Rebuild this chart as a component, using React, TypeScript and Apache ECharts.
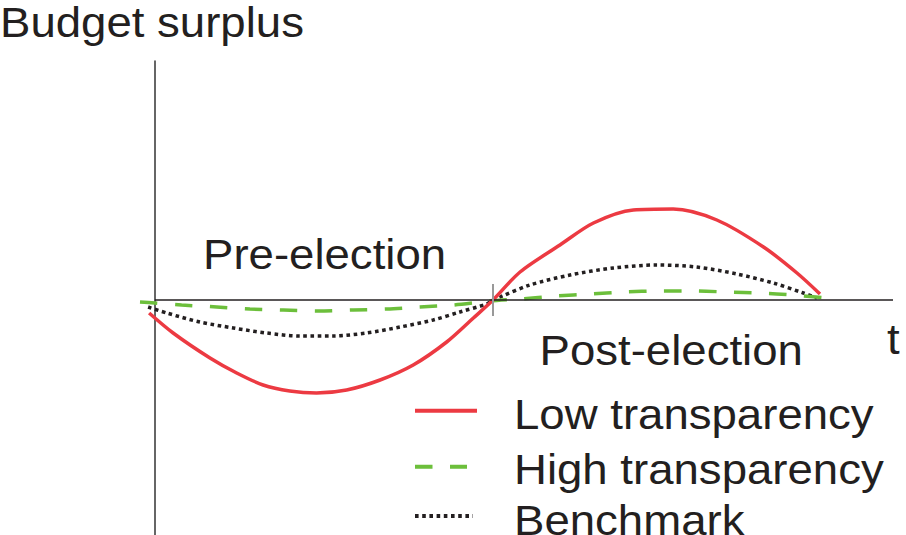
import React, { useEffect, useRef } from "react";
import * as echarts from "echarts";

// time in units of one pre-election period (election at t = 1)
const redT = [-0.017, 0.054, 0.163, 0.242, 0.32, 0.399, 0.478, 0.567, 0.666, 0.764, 0.863, 0.942, 1.0, 1.08, 1.198, 1.297, 1.415, 1.533, 1.662, 1.8, 1.899, 1.967];
const redY = [-0.13, -0.33, -0.58, -0.73, -0.85, -0.91, -0.93, -0.9, -0.8, -0.65, -0.42, -0.18, 0, 0.28, 0.55, 0.77, 0.9, 0.91, 0.8, 0.53, 0.27, 0.06];

const greenT = [-0.044, 0, 0.079, 0.183, 0.281, 0.38, 0.483, 0.587, 0.686, 0.784, 0.883, 0.991, 1.08, 1.188, 1.287, 1.386, 1.494, 1.593, 1.692, 1.79, 1.888, 1.987, 2.022];
const greenY = [-0.02, -0.03, -0.05, -0.07, -0.09, -0.1, -0.11, -0.1, -0.09, -0.07, -0.05, -0.01, 0.01, 0.04, 0.06, 0.08, 0.09, 0.09, 0.08, 0.07, 0.05, 0.02, 0.01];

const blackT = [-0.02, 0.035, 0.133, 0.232, 0.33, 0.429, 0.528, 0.626, 0.725, 0.823, 0.902, 0.981, 1.0, 1.021, 1.109, 1.228, 1.356, 1.484, 1.602, 1.721, 1.829, 1.918, 1.958];
const blackY = [-0.07, -0.13, -0.22, -0.28, -0.33, -0.36, -0.36, -0.33, -0.27, -0.2, -0.12, -0.04, 0, 0.03, 0.15, 0.25, 0.32, 0.35, 0.33, 0.26, 0.17, 0.07, 0.02];

const electionT = 1;
const tMin = -0.044;
const tMax = 2.183;
const seriesNames = ["Low transparency", "High transparency", "Benchmark"];
const yTitle = "Budget surplus";
const xTitle = "t";
const phaseLabels = ["Pre-election", "Post-election"];

const RED = "#ec3a42";
const GREEN = "#6cbf3b";
const BLACK = "#231f20";
const FONT = '"Liberation Sans", Arial, sans-serif';
const SX = 1.085;

const zip = (a: number[], b: number[]) => a.map((v, i) => [v, b[i]]);

function txt(text: string, x: number, y: number) {
  return {
    type: "text",
    x,
    y,
    scaleX: SX,
    style: {
      text,
      fill: BLACK,
      fontSize: 42,
      fontFamily: FONT,
      textAlign: "left",
      textVerticalAlign: "middle",
      align: "left",
      verticalAlign: "middle",
    },
  };
}

export default function App() {
  const ref = useRef<HTMLDivElement>(null);
  useEffect(() => {
    if (!ref.current) return;
    const chart = echarts.init(ref.current, undefined, { renderer: "svg" });
    chart.setOption({
      animation: false,
      backgroundColor: "#ffffff",
      grid: { left: 140, right: 13, top: 61, bottom: 0 },
      xAxis: {
        type: "value",
        min: tMin,
        max: tMax,
        axisLine: { show: false },
        axisTick: { show: false },
        axisLabel: { show: false },
        splitLine: { show: false },
      },
      yAxis: {
        type: "value",
        min: -2.35,
        max: 2.39,
        axisLine: { show: true, onZero: true, lineStyle: { color: "#333333", width: 1.5 } },
        axisTick: { show: false },
        axisLabel: { show: false },
        splitLine: { show: false },
      },
      series: [
        {
          name: seriesNames[2],
          type: "line",
          data: zip(blackT, blackY),
          symbol: "none",
          smooth: 0.3,
          lineStyle: { color: BLACK, width: 3.5, type: [3.6, 3.6], cap: "butt" },
          markLine: {
            silent: true,
            symbol: "none",
            label: { show: false },
            lineStyle: { type: "solid" },
            data: [
              [
                { coord: [0, 0], lineStyle: { color: BLACK, width: 1.5, type: "solid" } },
                { coord: [tMax, 0] },
              ],
              [
                { coord: [electionT, 0.16], lineStyle: { color: "#999999", width: 2, type: "solid" } },
                { coord: [electionT, -0.16] },
              ],
            ],
          },
        },
        {
          name: seriesNames[1],
          type: "line",
          data: zip(greenT, greenY),
          symbol: "none",
          smooth: 0.3,
          lineStyle: { color: GREEN, width: 3.5, type: [17.5, 17.5], cap: "butt" },
        },
        {
          name: seriesNames[0],
          type: "line",
          data: zip(redT, redY),
          symbol: "none",
          smooth: 0.3,
          lineStyle: { color: RED, width: 3.5 },
        },
      ],
      graphic: [
        txt(yTitle, 0, 22),
        txt(xTitle, 887, 338.7),
        txt(phaseLabels[0], 203, 253.8),
        txt(phaseLabels[1], 539.5, 349.8),
        {
          type: "line",
          shape: { x1: 415, y1: 410.7, x2: 477, y2: 410.7 },
          style: { stroke: RED, lineWidth: 4 },
        },
        {
          type: "line",
          shape: { x1: 415, y1: 466.7, x2: 467, y2: 466.7 },
          style: { stroke: GREEN, lineWidth: 4, lineDash: [17.5, 17.5] },
        },
        {
          type: "line",
          shape: { x1: 415, y1: 516, x2: 473, y2: 516 },
          style: { stroke: BLACK, lineWidth: 4, lineDash: [3.6, 3.6] },
        },
        txt(seriesNames[0], 514, 413.8),
        txt(seriesNames[1], 514, 468.8),
        txt(seriesNames[2], 514, 520),
      ],
    });
    return () => chart.dispose();
  }, []);
  return (
    <div
      ref={ref}
      style={{ position: "fixed", left: 0, top: 0, width: 906, height: 535 }}
    />
  );
}
